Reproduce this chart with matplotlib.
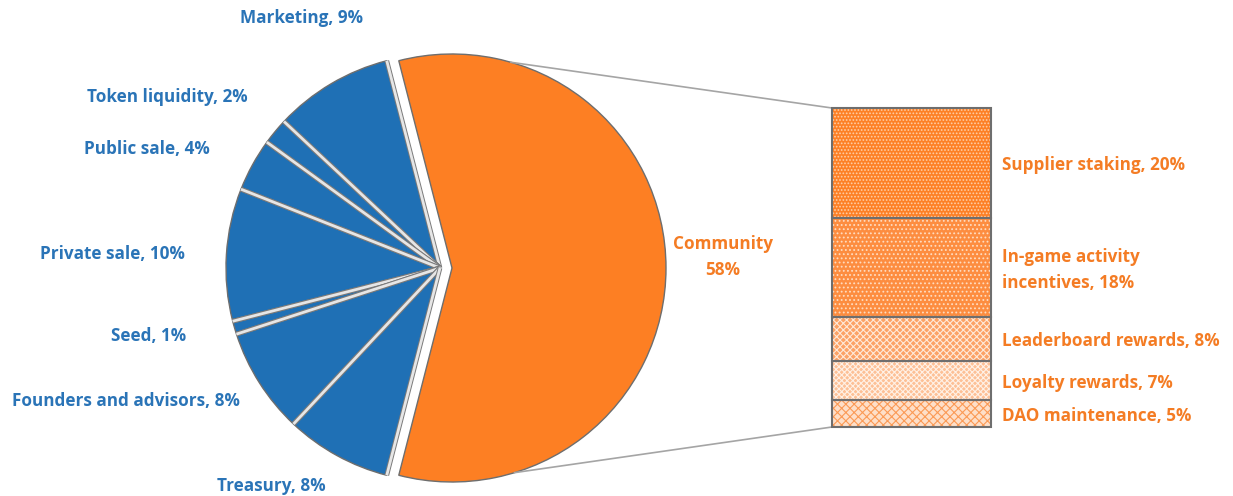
import numpy as np
import matplotlib
matplotlib.use("Agg")
import matplotlib.pyplot as plt
from matplotlib import patheffects as pe

plt.rcParams['font.family'] = ['Open Sans', 'DejaVu Sans']
plt.rcParams['hatch.linewidth'] = 0.8

# pie data (counterclockwise, starting with the exploded slice)
pie_labels = ['Community', 'Marketing', 'Token liquidity', 'Public sale',
              'Private sale', 'Seed', 'Founders and advisors', 'Treasury']
pie_values = [58, 9, 2, 4, 10, 1, 8, 8]

# breakdown of the Community slice (top to bottom)
bar_labels = ['Supplier staking', 'In-game activity\nincentives', 'Leaderboard rewards',
              'Loyalty rewards', 'DAO maintenance']
bar_values = [20, 18, 8, 7, 5]

BLUE = '#1f70b5'
ORANGE = '#fd7f23'
BLUE_TXT = '#2a74b7'
ORANGE_TXT = '#f47c24'
FS = 12.3

W, H = 1233, 496
fig = plt.figure(figsize=(W / 100, H / 100), dpi=100)
ax = fig.add_axes([0, 0, 1, 1])

center = (440, H - 268)
radius = 214
start = -pie_values[0] / 100 * 360 / 2
colors = [ORANGE] + [BLUE] * (len(pie_values) - 1)
explode = [12] + [0] * (len(pie_values) - 1)   # data units (pixels)

wedges, _ = ax.pie(pie_values, colors=colors, explode=explode, startangle=start,
                   counterclock=True, center=center, radius=radius,
                   wedgeprops=dict(edgecolor='#6e6e6e', linewidth=1.0))
for w in wedges:
    w.set_path_effects([pe.SimplePatchShadow(offset=(0, 0), shadow_rgbFace='#bdbdbd',
                                             alpha=0.6), pe.Normal()])

# light separators between the blue slices
for w in wedges[1:]:
    for ang in (w.theta1, w.theta2):
        a = np.deg2rad(ang)
        xs = [w.center[0], w.center[0] + w.r * np.cos(a)]
        ys = [w.center[1], w.center[1] + w.r * np.sin(a)]
        ax.plot(xs, ys, color='#e6e6e6', lw=2.0, solid_capstyle='butt',
                path_effects=[pe.Stroke(linewidth=3.4, foreground='#7a7a7a'), pe.Normal()],
                zorder=3)

# label positions (pixel coords of text centres)
pie_label_pos = [(723, 257), (301, 18), (167, 97), (147, 149), (112, 254),
                 (149, 336), (126, 401), (271, 486)]
for i, (lab, val) in enumerate(zip(pie_labels, pie_values)):
    x, y = pie_label_pos[i]
    if i == 0:
        txt, col = f'{lab}\n{val}%', ORANGE_TXT
    else:
        txt, col = f'{lab}, {val}%', BLUE_TXT
    ax.text(x, H - y, txt, ha='center', va='center', fontsize=FS,
            fontweight='bold', color=col, linespacing=1.55)

# stacked bar
bar_x, bar_w = 911.5, 159
bar_bottom = H - 427
scale = 5.5
face = ['#fd8026', '#fd8d40', '#fca266', '#fdc096', '#fedfc8']
hatches = ['.....', '....', 'xxxxx', 'xxxxxx', 'xxxx']
hatch_col = ['#ffcfa8', '#ffdcc0', '#ffe9d8', '#fff1e6', '#fb9a55']
vals_bottom_up = bar_values[::-1]
bottom = bar_bottom
tops = {}
for k, v in enumerate(vals_bottom_up):
    idx = len(bar_values) - 1 - k
    h = v * scale
    ax.bar(bar_x, h, width=bar_w, bottom=bottom, color=face[idx],
           edgecolor=hatch_col[idx], hatch=hatches[idx], linewidth=0, zorder=2)
    ax.bar(bar_x, h, width=bar_w, bottom=bottom, fill=False,
           edgecolor='#6e6e6e', linewidth=1.5, zorder=3)
    tops[idx] = (bottom, bottom + h)
    bottom += h

for idx, lab in enumerate(bar_labels):
    b, t = tops[idx]
    ax.text(1002, (b + t) / 2 - 2.5, f'{lab}, {bar_values[idx]}%', ha='left', va='center',
            fontsize=FS, fontweight='bold', color=ORANGE_TXT, linespacing=1.5)

# connector lines
cw = wedges[0]
for ang, yb in ((74, bottom), (-73, bar_bottom)):
    a = np.deg2rad(ang)
    x0 = cw.center[0] + cw.r * np.cos(a)
    y0 = cw.center[1] + cw.r * np.sin(a)
    ax.plot([x0, bar_x - bar_w / 2], [y0, yb], color='#a5a5a5', lw=1.2, zorder=1)

ax.set_xlim(0, W)
ax.set_ylim(0, H)
ax.set_aspect('equal')
ax.axis('off')
fig.savefig('out.png', dpi=100)
